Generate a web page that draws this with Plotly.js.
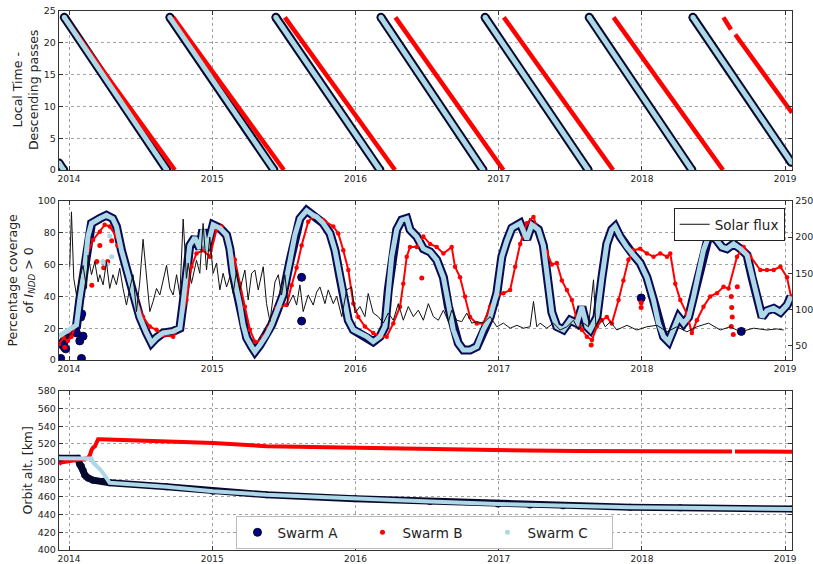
<!DOCTYPE html>
<html><head><meta charset="utf-8">
<script src="https://cdn.plot.ly/plotly-3.0.1.min.js"></script>
<style>html,body{margin:0;padding:0;background:#fff}#chart{width:813px;height:564px}</style>
</head><body><div id="chart"></div>
<script>
// ---------- shared tick labels ----------
const yearTicks = [2014, 2015, 2016, 2017, 2018, 2019];
const yearLabels = ['2014', '2015', '2016', '2017', '2018', '2019'];

// ---------- Panel 1: local time of descending passes (segment end points, null = break) ----------
const ltYearsAC = [2013.930,2013.963,null, 2013.967,2014.683,null, 2014.704,2015.431,null, 2015.444,2016.171,null,
                   2016.178,2016.891,null, 2016.905,2017.625,null, 2017.632,2018.349,null, 2018.356,2019.043];
const ltHoursAC = [1.1,0,null, 24,0,null, 24,0,null, 24,0,null, 24,0,null, 24,0,null, 24,0,null, 24,1.2];
const ltYearsB  = [2013.967,2014.739,null, 2014.727,2015.500,null, 2015.507,2016.276,null, 2016.279,2017.033,null,
                   2017.036,2017.799,null, 2017.802,2018.566,null, 2018.569,2018.622,null, 2018.652,2019.048];
const ltHoursB  = [24,0,null, 24,0,null, 24,0,null, 24,0,null, 24,0,null, 24,0,null, 24,22.1,null, 21.3,9];

// ---------- Panel 2: percentage coverage ----------
const covYears = [2013.930,2013.949,2013.977,2014.005,2014.052,2014.075,2014.110,2014.133,2014.157,2014.215,
  2014.261,2014.305,2014.331,2014.366,2014.401,2014.445,2014.494,2014.541,2014.576,2014.611,
  2014.657,2014.727,2014.774,2014.795,2014.820,2014.843,2014.878,2014.913,2014.934,2014.960,
  2015.006,2015.053,2015.100,2015.123,2015.144,2015.170,2015.193,2015.216,2015.240,2015.275,
  2015.298,2015.333,2015.379,2015.414,2015.449,2015.495,2015.542,2015.577,2015.612,2015.659,
  2015.705,2015.729,2015.775,2015.822,2015.857,2015.892,2015.915,2015.950,2015.985,2016.031,
  2016.078,2016.124,2016.171,2016.206,2016.229,2016.253,2016.288,2016.323,2016.358,2016.381,
  2016.428,2016.474,2016.521,2016.567,2016.614,2016.649,2016.683,2016.718,2016.753,2016.800,
  2016.847,2016.893,2016.940,2016.987,2017.022,2017.057,2017.092,2017.150,2017.196,2017.231,
  2017.277,2017.312,2017.336,2017.371,2017.406,2017.452,2017.499,2017.546,2017.581,2017.616,
  2017.639,2017.686,2017.721,2017.755,2017.790,2017.813,2017.848,2017.895,2017.941,2017.988,
  2018.035,2018.081,2018.116,2018.151,2018.186,2018.221,2018.256,2018.291,2018.326,2018.361,
  2018.396,2018.430,2018.465,2018.512,2018.559,2018.594,2018.640,2018.687,2018.734,2018.769,
  2018.804,2018.839,2018.873,2018.920,2018.967,2019.014,2019.041];
const covA = [12,10,14,17,21,38,58.7,78,86,89,
  91,89,84,69,57,42,27,17,10.7,14,
  17,18,20,34.6,58,72,77,70,82,69,
  85,83,78.6,70,55,45,34.6,22,14,8.4,
  5.2,9.4,15.7,22,30,41,62,78.6,89,94,
  91,90,86,79.6,69,52,37.7,25,19,17,
  14.7,11.5,14.7,21,44,65,82,88,89,82,
  77.6,70,68,63,52,33.5,19,10.5,6.3,6.3,
  8.4,19,27,42,65,75,83,86,76,85,
  82,72,53,30,21,19,25,23,33.5,21,
  19,27,52,73,82,84,77.6,71,66,61,
  52,37.7,23,14.7,11.5,19,27,23,27,40,
  54.5,69,77.6,76.5,71,70,73,70,66,52,
  37.7,27,31,32.5,30,34.6,40];
const covC = [15,16,18,19,22,38,58.7,78,86,89,
  91,89,84,69,57,42,27,17,10.7,14,
  17,18,20,34.6,58,72,77,70,82,69,
  85,83,78.6,70,55,45,34.6,22,14,8.4,
  5.2,9.4,15.7,22,30,41,62,78.6,89,94,
  91,90,86,79.6,69,52,37.7,25,19,17,
  14.7,11.5,14.7,21,44,65,82,88,89,82,
  77.6,70,68,63,52,33.5,19,10.5,6.3,6.3,
  8.4,19,27,42,65,75,83,86,76,85,
  82,72,53,30,21,19,25,23,33.5,21,
  19,27,52,73,82,84,77.6,71,66,61,
  52,37.7,23,14.7,11.5,19,27,23,27,40,
  54.5,69,77.6,76.5,71,70,73,70,66,52,
  37.7,27,31,32.5,30,34.6,40];
const covBYears = [2013.930,2013.963,2013.991,2014.017,2014.047,2014.075,2014.122,2014.168,2014.215,2014.249,
  2014.284,2014.331,2014.377,2014.424,2014.471,2014.517,2014.564,2014.611,2014.657,2014.727,
  2014.774,2014.820,2014.855,2014.890,2014.936,2014.983,2015.030,2015.065,2015.123,2015.158,
  2015.193,2015.228,2015.263,2015.298,2015.333,2015.356,2015.391,2015.449,2015.519,2015.554,
  2015.589,2015.624,2015.670,2015.705,2015.775,2015.845,2015.880,2015.915,2015.950,2015.985,
  2016.020,2016.066,2016.124,2016.171,2016.218,2016.264,2016.311,2016.334,2016.358,2016.381,
  2016.428,2016.474,2016.521,2016.567,2016.614,2016.672,2016.695,2016.730,2016.765,2016.800,
  2016.847,2016.893,2016.940,2016.987,2017.033,2017.080,2017.115,2017.150,2017.196,2017.243,
  2017.289,2017.336,2017.371,2017.406,2017.441,2017.476,2017.511,2017.546,2017.581,2017.616,
  2017.651,2017.686,2017.720,2017.755,2017.790,2017.837,2017.871,2017.906,2017.941,2017.988,
  2018.035,2018.081,2018.128,2018.175,2018.198,2018.233,2018.268,2018.314,2018.349,2018.384,
  2018.430,2018.477,2018.524,2018.570,2018.605,2018.664,2018.710,2018.757,2018.827,2018.873,
  2018.920,2018.967,2019.013,2019.041];
const covB = [10,14,12,14.7,22,37.7,65,75.5,80.7,85,
  84,77.6,65,50,37.7,27,21,19,15.7,14.7,
  21,37.7,58.7,67,69,65,82,84,69,63,
  48,33.5,19,11.5,11.5,14.7,20,32.7,34.6,47,
  58,72,87,90,88,84,79.6,69,56.6,35.6,
  27,21,17,14.7,14.7,23,33.5,48,65,71,
  71,77.6,73,71,67,71,58.7,52,40,27,
  23,23,33.5,40,42,44,58.7,73,86,90,
  77,68,60,61,50,44,37.7,25,19,14.7,
  12.6,21,25,27,23,37.7,50,63,69,70,
  67,65,67,65,67,48,37.7,29,17,25,
  33.5,40,42,46,45,65,71,65,56.6,56.6,
  56.6,58.7,52,40];
// isolated points
const outAYears = [2013.942,2013.963,2013.977,2014.052,2014.068,2014.082,2014.089,2014.087,2014.075,2014.098,2015.624,2015.624,2017.995,2018.694];
const outA      = [1,10,7,17,28,27,29,1,12,15,52,24.5,39,18];
const outBYears = [2013.970,2013.998,2014.159,2014.194,2014.215,2014.242,2014.270,2014.298,2014.340,2014.368,2016.463,2017.646,2017.995,2017.995,2018.624,2018.627,2018.631,2018.624,2018.638,2018.666];
const outB      = [8,18,47,62,72,58,62,75,72,68,51.6,9.4,33,36,40,33,27,21,16,46];
const outCYears = [2014.236,2014.263,2014.284,2014.298];
const outC      = [62,60,78,65];

// solar flux (right axis)
const fluxYears = [2014.005,2014.017,2014.033,2014.052,2014.075,2014.098,2014.122,2014.133,2014.157,2014.180,
  2014.203,2014.215,2014.238,2014.261,2014.284,2014.307,2014.331,2014.354,2014.377,2014.401,
  2014.424,2014.447,2014.471,2014.494,2014.517,2014.541,2014.564,2014.587,2014.611,2014.634,
  2014.657,2014.681,2014.704,2014.727,2014.751,2014.774,2014.797,2014.820,2014.832,2014.855,
  2014.890,2014.913,2014.936,2014.960,2014.983,2015.006,2015.030,2015.053,2015.076,2015.100,
  2015.123,2015.146,2015.170,2015.193,2015.228,2015.251,2015.275,2015.298,2015.321,2015.356,
  2015.379,2015.403,2015.438,2015.461,2015.484,2015.507,2015.530,2015.565,2015.589,2015.612,
  2015.635,2015.670,2015.705,2015.729,2015.752,2015.787,2015.810,2015.845,2015.869,2015.904,
  2015.939,2015.973,2015.997,2016.031,2016.066,2016.089,2016.124,2016.159,2016.194,2016.229,
  2016.264,2016.299,2016.334,2016.369,2016.404,2016.439,2016.474,2016.509,2016.544,2016.579,
  2016.614,2016.649,2016.672,2016.707,2016.742,2016.777,2016.812,2016.847,2016.893,2016.940,
  2016.987,2017.033,2017.080,2017.127,2017.173,2017.219,2017.243,2017.266,2017.289,2017.336,
  2017.382,2017.429,2017.476,2017.522,2017.557,2017.592,2017.627,2017.662,2017.679,2017.709,
  2017.744,2017.779,2017.825,2017.895,2017.965,2018.035,2018.105,2018.175,2018.245,2018.314,
  2018.384,2018.465,2018.547,2018.617,2018.687,2018.780,2018.873,2018.943,2018.990];
const fluxVals = [159,235,143,120,143,161,129,175,148,166,
  138,148,134,166,129,148,134,157,129,106,
  129,148,97,138,197,143,97,111,129,120,
  138,161,129,120,148,120,225,143,164,136,
  168,150,219,154.5,200,150,164,127,150,131,
  145,122,154.5,127,154.5,113,150,154.5,127,159,
  108,83,138,148,120,148,106,120,106,134,
  97,120,106,124,131,108,127,108,118,90,
  127,131,95,104,90,122,95,90,81,95,
  85,108,85,104,90,99,85,108,90,85,
  99,83,99,85,83,95,81,83,81,90,
  76,81,74,78,74,76,111,76,81,74,
  81,71.5,76,85,71.5,81,76,141,76,90,
  76,83,71.5,78,71.5,76,78,69,76,69,
  76,81,71.5,76,69,74,71.5,73,71.5];

// ---------- Panel 3: orbit altitude ----------
const altAYears = [2013.930,2014.061,2014.075,2014.087,2014.098,2014.110,2014.133,2014.168,2014.238,2014.284,2014.681,2015.006,2015.379,2015.997,2016.521,2016.996,2017.219,2017.450,2017.918,2018.268,2018.687,2019.048];
const altA      = [504,504,497,494.7,490,485,481.5,479,477.7,476,471.5,466.5,462.5,458,455,452,451,450,448.5,447.7,447,446.5];
const altCYears = [2013.930,2014.157,2014.168,2014.192,2014.215,2014.238,2014.261,2014.284,2014.681,2015.006,2015.379,2015.997,2016.521,2016.996,2017.219,2017.450,2017.918,2018.268,2018.687,2019.048];
const altC      = [504,503.5,499,495.5,491.7,487,482,476,471.5,466.5,462.5,458,455,452,451,450,448.5,447.7,447,446.5];
const altBYears = [2013.930,2013.942,2014.131,2014.145,2014.157,2014.168,2014.180,2014.192,2014.203,2014.215,2014.681,2015.006,2015.379,2015.997,2016.521,2017.000,2017.219,2017.546,2018.384,2018.629,null,2018.650,2019.048];
const altB      = [497,499,504,507,513,516,517,521,525.5,525.5,523.5,521,517.5,515.5,514.2,513,512.6,512.2,511.6,511.5,null,511.5,511.3];

// ---------- colours ----------
const navy = '#0a0a55', navyEdge = '#08082e', red = '#ff0000', lblue = '#add8e6';

const traces = [
  // panel 1
  {x: ltYearsAC, y: ltHoursAC, xaxis:'x', yaxis:'y', mode:'lines+markers', line:{color:navyEdge, width:9}, marker:{color:navyEdge, size:9}, showlegend:false, hoverinfo:'skip'},
  {x: ltYearsB, y: ltHoursB, xaxis:'x', yaxis:'y', mode:'lines', line:{color:red, width:4.5}, showlegend:false, hoverinfo:'skip'},
  {x: ltYearsAC, y: ltHoursAC, xaxis:'x', yaxis:'y', mode:'lines+markers', line:{color:lblue, width:5}, marker:{color:lblue, size:5}, showlegend:false, hoverinfo:'skip'},
  // panel 2
  {x: covYears, y: covA, xaxis:'x2', yaxis:'y2', mode:'lines', line:{color:navy, width:9}, showlegend:false, hoverinfo:'skip'},
  {x: outAYears, y: outA, xaxis:'x2', yaxis:'y2', mode:'markers', name:'Swarm A', legend:'legend', legendrank:1,
   marker:{color:'#000080', size:8, line:{color:navyEdge, width:1}}},
  {x: covBYears, y: covB, xaxis:'x2', yaxis:'y2', mode:'lines+markers', line:{color:red, width:2}, marker:{color:red, size:4.5}, showlegend:false, hoverinfo:'skip'},
  {x: outBYears, y: outB, xaxis:'x2', yaxis:'y2', mode:'markers', name:'Swarm B', legend:'legend', legendrank:2,
   marker:{color:red, size:5}},
  {x: covYears, y: covC, xaxis:'x2', yaxis:'y2', mode:'lines', line:{color:lblue, width:5}, showlegend:false, hoverinfo:'skip'},
  {x: outCYears, y: outC, xaxis:'x2', yaxis:'y2', mode:'markers', name:'Swarm C', legend:'legend', legendrank:3,
   marker:{color:lblue, size:5}},
  {x: fluxYears, y: fluxVals, xaxis:'x2', yaxis:'y4', mode:'lines', name:'Solar flux', legend:'legend2',
   line:{color:'#111', width:1}},
  // panel 3
  {x: altAYears, y: altA, xaxis:'x3', yaxis:'y3', mode:'lines+markers', line:{color:navyEdge, width:7}, marker:{color:navyEdge, size:7}, showlegend:false, hoverinfo:'skip'},
  {x: altBYears, y: altB, xaxis:'x3', yaxis:'y3', mode:'lines', line:{color:red, width:4}, showlegend:false, hoverinfo:'skip'},
  {x: altCYears, y: altC, xaxis:'x3', yaxis:'y3', mode:'lines', line:{color:lblue, width:4}, showlegend:false, hoverinfo:'skip'}
];

const fam = 'DejaVu Sans, sans-serif';
function xAx(anchor){
  return {domain:[0,1], anchor:anchor, range:[2013.930, 2019.048], tickmode:'array', tickvals:yearTicks, ticktext:yearLabels,
    showline:true, linecolor:'#333', linewidth:1.3, mirror:'ticks', ticks:'inside', ticklen:4, tickcolor:'#333',
    showgrid:true, gridcolor:'#8a8a8a', griddash:'dot', gridwidth:0.8, zeroline:false, automargin:false,
    tickfont:{family:fam, size:9, color:'#222'}};
}
function yAx(anchor, domain, range, dtick, mirror){
  return {domain:domain, anchor:anchor, range:range, dtick:dtick, tick0:range[0],
    showline:true, linecolor:'#333', linewidth:1.3, mirror:mirror, ticks:'inside', ticklen:4, tickcolor:'#333',
    showgrid:true, gridcolor:'#8a8a8a', griddash:'dot', gridwidth:0.8, zeroline:false, automargin:false,
    tickfont:{family:fam, size:9.5, color:'#222'}};
}
const titleFont = {family:fam, size:12.5, color:'#222'};

const layout = {
  width:813, height:564, margin:{l:59, r:21, t:11, b:14}, paper_bgcolor:'#fff', plot_bgcolor:'#fff',
  font:{family:fam, color:'#222'}, showlegend:true,
  xaxis: xAx('y'), xaxis2: xAx('y2'), xaxis3: xAx('y3'),
  yaxis: yAx('x', [0.705, 1], [0, 25], 5, 'ticks'),
  yaxis2: yAx('x2', [0.3525, 0.6475], [0, 100], 20, false),
  yaxis3: yAx('x3', [0, 0.295], [400, 580], 20, 'ticks'),
  yaxis4: {overlaying:'y2', anchor:'x2', side:'right', range:[30, 250], tickvals:[50,100,150,200,250],
    showline:true, linecolor:'#333', linewidth:1.3, ticks:'inside', ticklen:4, tickcolor:'#333', showgrid:false, zeroline:false,
    automargin:false, tickfont:{family:fam, size:9.5, color:'#222'}},
  legend: {x:0.4993, y:0.063, xanchor:'center', yanchor:'top', orientation:'h', bgcolor:'#fff', bordercolor:'#bbb', borderwidth:1,
    font:{family:fam, size:13.5, color:'#222'}, entrywidth:80, traceorder:'normal'},
  legend2: {x:0.990, y:0.6345, xanchor:'right', yanchor:'top', bgcolor:'#fff', bordercolor:'#222', borderwidth:1,
    font:{family:fam, size:13.5, color:'#222'}},
  annotations: [
    {text:'Local Time -<br>Descending passes', xref:'paper', yref:'paper', x:-0.0457, y:0.8525, xanchor:'center', yanchor:'middle',
     textangle:-90, showarrow:false, font:titleFont},
    {text:'Percentage coverage<br>of <i>I</i><sub><i>NDD</i></sub> &gt; 0', xref:'paper', yref:'paper', x:-0.0518, y:0.5, xanchor:'center', yanchor:'middle',
     textangle:-90, showarrow:false, font:titleFont},
    {text:'Orbit alt. [km]', xref:'paper', yref:'paper', x:-0.0423, y:0.1475, xanchor:'center', yanchor:'middle',
     textangle:-90, showarrow:false, font:titleFont}
  ]
};

Plotly.newPlot('chart', traces, layout, {displayModeBar:false, staticPlot:true});
</script></body></html>
